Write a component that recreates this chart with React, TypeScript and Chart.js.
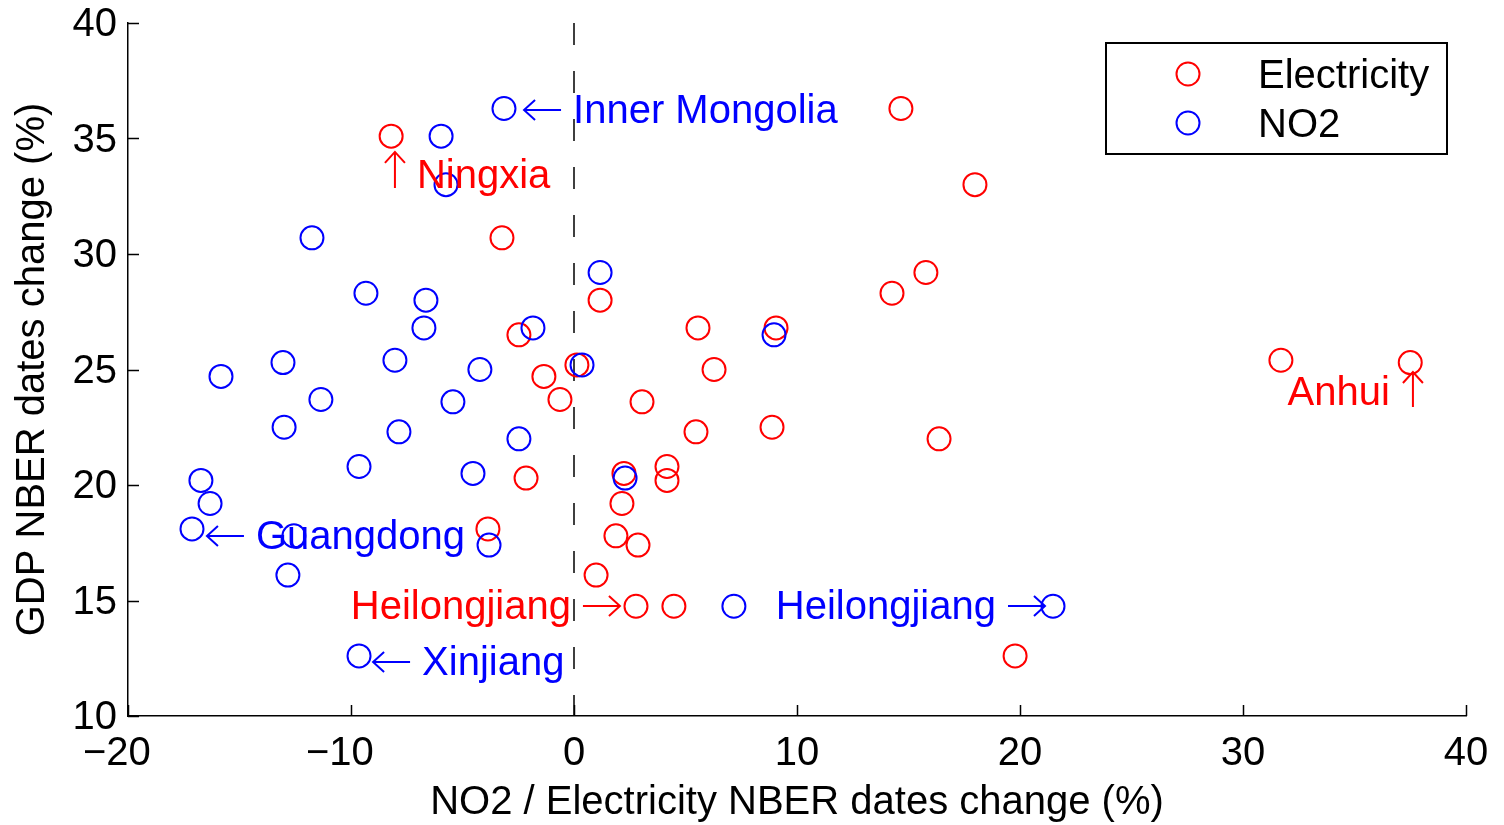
import React, { useEffect, useRef } from 'react';
import { Chart, registerables } from 'chart.js';
Chart.register(...registerables);

// GDP NBER dates change (%) — shared y value per province
const gdpChange = [36.3, 35.1, 33.0, 30.7, 29.2, 28.3, 28.0, 26.8, 26.8, 26.5, 25.4, 25.3, 25.2, 25.0, 24.7, 23.7, 23.6, 22.5, 22.3, 22.0, 20.8, 20.5, 20.3, 20.2, 19.2, 18.1, 17.8, 17.4, 16.1, 14.75, 14.75, 12.6];
// Electricity NBER dates change (%)
const electricityChange = [14.66, -8.2, 17.98, -3.23, 15.78, 14.26, 1.17, 5.56, 9.06, -2.47, 31.7, 37.5, 0.13, 6.28, -1.35, -0.63, 3.05, 8.88, 5.47, 16.37, 4.17, 2.24, -2.15, 4.17, 2.15, -3.86, 1.88, 2.87, 0.99, 2.78, 4.48, 19.78];
// NO2 NBER dates change (%)
const no2Change = [-3.14, -5.96, -5.74, -11.75, 1.17, -9.33, -6.64, -1.84, -6.73, 8.97, -8.03, -13.05, 0.36, -4.22, -15.83, -11.35, -5.43, -13.0, -7.85, -2.47, -9.64, -4.53, 2.29, -16.73, -16.32, -17.13, -12.56, -3.81, -12.83, 7.17, 21.48, -9.64];

const seriesNames = ['Electricity', 'NO2'];
const xTicks = [-20, -10, 0, 10, 20, 30, 40];
const yTicks = [10, 15, 20, 25, 30, 35, 40];
const xTitle = 'NO2 / Electricity NBER dates change (%)';
const yTitle = 'GDP NBER dates change (%)';

// annotation labels: arrow tip in data coordinates
const annotationText = ['Inner Mongolia', 'Ningxia', 'Guangdong', 'Heilongjiang', 'Heilongjiang', 'Xinjiang', 'Anhui'];
const annotationArrow = ['left', 'upBefore', 'left', 'right', 'right', 'left', 'upAfter'];
const annotationX = [-2.24, -8.03, -16.46, 2.06, 21.12, -9.01, 37.62];
const annotationY = [36.23, 34.42, 17.79, 14.76, 14.76, 12.34, 24.89];
const annotationSeries = [1, 0, 1, 0, 1, 1, 0];

const FONT = '"Liberation Sans", Arial, Helvetica, sans-serif';
const COLORS = ['#ff0000', '#0000ff'];

function arrow(ctx: CanvasRenderingContext2D, x1: number, y1: number, x2: number, y2: number) {
  const ang = Math.atan2(y2 - y1, x2 - x1);
  const back = 11;
  const side = 10;
  ctx.beginPath();
  ctx.moveTo(x1, y1);
  ctx.lineTo(x2, y2);
  const bx = x2 - back * Math.cos(ang);
  const by = y2 - back * Math.sin(ang);
  const nx = -Math.sin(ang);
  const ny = Math.cos(ang);
  ctx.moveTo(bx + side * nx, by + side * ny);
  ctx.lineTo(x2, y2);
  ctx.lineTo(bx - side * nx, by - side * ny);
  ctx.stroke();
}

const overlayPlugin = {
  id: 'overlay',
  afterDatasetsDraw(chart: any) {
    const { ctx, chartArea, scales } = chart;
    const xs = scales.x;
    const ys = scales.y;
    ctx.save();
    // inward ticks
    ctx.strokeStyle = '#000';
    ctx.lineWidth = 1.5;
    ctx.beginPath();
    xs.ticks.forEach((t: any) => {
      const px = Math.round(xs.getPixelForValue(t.value)) + 0.5;
      ctx.moveTo(px, chartArea.bottom);
      ctx.lineTo(px, chartArea.bottom - 11);
    });
    ys.ticks.forEach((t: any) => {
      const py = Math.round(ys.getPixelForValue(t.value)) + 0.5;
      ctx.moveTo(chartArea.left, py);
      ctx.lineTo(chartArea.left + 11, py);
    });
    ctx.stroke();

    // annotations
    ctx.font = `40px ${FONT}`;
    ctx.textBaseline = 'middle';
    ctx.lineWidth = 2;
    const dy = 2;
    annotationText.forEach((txt, i) => {
      const col = COLORS[annotationSeries[i]];
      ctx.fillStyle = col;
      ctx.strokeStyle = col;
      const px = xs.getPixelForValue(annotationX[i]);
      const py = ys.getPixelForValue(annotationY[i]);
      const kind = annotationArrow[i];
      if (kind === 'left') {
        arrow(ctx, px + 37, py, px, py);
        ctx.textAlign = 'left';
        ctx.fillText(txt, px + 49, py + dy);
      } else if (kind === 'right') {
        arrow(ctx, px - 37, py, px, py);
        ctx.textAlign = 'right';
        ctx.fillText(txt, px - 49, py + dy);
      } else if (kind === 'upBefore') {
        arrow(ctx, px, py + 36, px, py);
        ctx.textAlign = 'left';
        ctx.fillText(txt, px + 22, py + 23 + dy);
      } else {
        arrow(ctx, px, py + 35, px, py);
        ctx.textAlign = 'right';
        ctx.fillText(txt, px - 23, py + 20 + dy);
      }
    });

    // legend box
    const bx = chartArea.right - 360;
    const by = chartArea.top + 20;
    const bw = 341;
    const bh = 111;
    ctx.fillStyle = '#fff';
    ctx.fillRect(bx, by, bw, bh);
    ctx.strokeStyle = '#000';
    ctx.lineWidth = 2;
    ctx.strokeRect(bx, by, bw, bh);
    ctx.font = `40px ${FONT}`;
    ctx.textAlign = 'left';
    ctx.textBaseline = 'middle';
    seriesNames.forEach((name, i) => {
      const cy = by + 31 + i * 49;
      ctx.beginPath();
      ctx.strokeStyle = COLORS[i];
      ctx.lineWidth = 2;
      ctx.arc(bx + 82, cy, 11.5, 0, Math.PI * 2);
      ctx.stroke();
      ctx.fillStyle = '#000';
      ctx.fillText(name, bx + 152, cy + 3);
    });
    ctx.restore();
  },
};

export default function App() {
  const ref = useRef<HTMLCanvasElement | null>(null);
  useEffect(() => {
    if (!ref.current) return;
    const fmtX = (v: any) => (v < 0 ? '\u2212' + Math.abs(v) + '  ' : String(v));
    const chart = new Chart(ref.current, {
      type: 'scatter',
      data: {
        datasets: [
          {
            label: seriesNames[0],
            data: electricityChange.map((x, i) => ({ x, y: gdpChange[i] })),
            borderColor: COLORS[0],
            backgroundColor: 'rgba(0,0,0,0)',
            pointRadius: 11.5,
            pointBorderWidth: 2,
            pointHoverRadius: 11.5,
            order: 1,
          },
          {
            label: seriesNames[1],
            data: no2Change.map((x, i) => ({ x, y: gdpChange[i] })),
            borderColor: COLORS[1],
            backgroundColor: 'rgba(0,0,0,0)',
            pointRadius: 11.5,
            pointBorderWidth: 2,
            pointHoverRadius: 11.5,
            order: 0,
          },
          {
            type: 'line',
            label: 'zero',
            data: [{ x: 0, y: 40 }, { x: 0, y: 10 }],
            borderColor: '#000',
            borderWidth: 1.5,
            borderDash: [22, 26],
            pointRadius: 0,
            order: 2,
          } as any,
        ],
      },
      options: {
        animation: false,
        responsive: false,
        devicePixelRatio: 1,
        layout: { padding: { left: 0, top: 23, right: 38, bottom: 0 } },
        plugins: { legend: { display: false }, tooltip: { enabled: false } },
        scales: {
          x: {
            type: 'linear',
            min: -20,
            max: 40,
            afterBuildTicks: (s: any) => { s.ticks = xTicks.map((v) => ({ value: v })); },
            afterFit: (s: any) => { s.height = 109; s.paddingLeft = 0; s.paddingRight = 0; },
            grid: { display: true, drawOnChartArea: false, drawTicks: false, color: 'rgba(0,0,0,0)' },
            border: { display: true, color: '#000', width: 1.5 },
            ticks: { color: '#000', font: { family: FONT, size: 40 }, padding: 14, maxRotation: 0, autoSkip: false, callback: fmtX },
            title: { display: true, text: xTitle, color: '#000', font: { family: FONT, size: 40 }, padding: { top: 0, bottom: -2 } },
          },
          y: {
            type: 'linear',
            min: 10,
            max: 40,
            afterBuildTicks: (s: any) => { s.ticks = yTicks.map((v) => ({ value: v })); },
            afterFit: (s: any) => { s.width = 128; s.paddingTop = 0; s.paddingBottom = 0; },
            grid: { display: true, drawOnChartArea: false, drawTicks: false, color: 'rgba(0,0,0,0)' },
            border: { display: true, color: '#000', width: 1.5 },
            ticks: { color: '#000', font: { family: FONT, size: 40 }, padding: 11, labelOffset: 2, autoSkip: false },
            title: { display: true, text: yTitle, color: '#000', font: { family: FONT, size: 40 }, padding: { top: 9, bottom: 0 } },
          },
        },
      },
      plugins: [overlayPlugin],
    });
    return () => chart.destroy();
  }, []);
  return (
    <div style={{ position: 'absolute', left: 0, top: 0, width: 1504, height: 825, background: '#fff' }}>
      <canvas ref={ref} width={1504} height={825} style={{ display: 'block', width: 1504, height: 825 }} />
    </div>
  );
}
